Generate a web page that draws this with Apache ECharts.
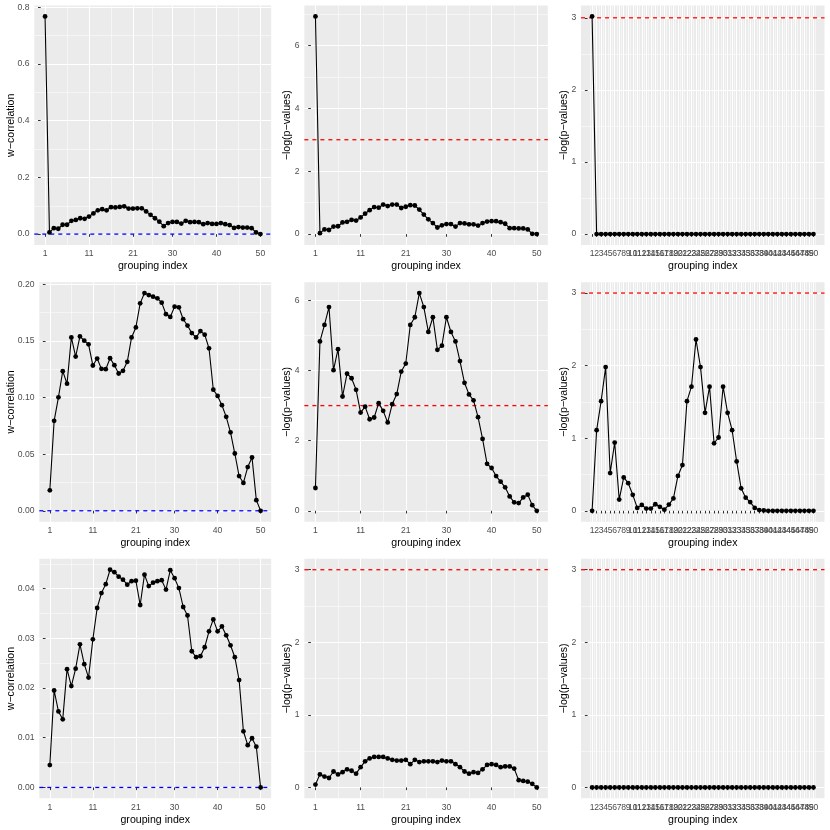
<!DOCTYPE html>
<html>
<head>
<meta charset="utf-8">
<script src="https://cdn.jsdelivr.net/npm/echarts@6/dist/echarts.min.js"></script>
<style>
  html, body { margin: 0; padding: 0; background: #fff; }
  #chart { width: 830px; height: 830px; }
</style>
</head>
<body>
<div id="chart"></div>
<script>
// grouping index 1..50 on every panel
const wcorTop = [0.768, 0.006, 0.021, 0.019, 0.033, 0.033, 0.047, 0.050, 0.056, 0.054,
  0.062, 0.073, 0.084, 0.088, 0.084, 0.095, 0.094, 0.096, 0.098, 0.090,
  0.090, 0.091, 0.091, 0.080, 0.068, 0.056, 0.044, 0.028, 0.039, 0.043,
  0.043, 0.037, 0.047, 0.042, 0.043, 0.042, 0.035, 0.039, 0.036, 0.036,
  0.039, 0.035, 0.032, 0.022, 0.025, 0.023, 0.023, 0.021, 0.006, 0.000]
const pvalTop = [6.92, 0.03, 0.15, 0.13, 0.24, 0.25, 0.37, 0.39, 0.45, 0.43,
  0.53, 0.65, 0.76, 0.86, 0.84, 0.94, 0.89, 0.94, 0.94, 0.83,
  0.87, 0.92, 0.91, 0.78, 0.62, 0.47, 0.35, 0.21, 0.28, 0.32,
  0.32, 0.24, 0.35, 0.34, 0.31, 0.31, 0.27, 0.35, 0.40, 0.41,
  0.41, 0.38, 0.33, 0.19, 0.19, 0.18, 0.18, 0.15, 0.01, 0.00]
const pvalTopR = [3.02, 0, 0, 0, 0, 0, 0, 0, 0, 0,
  0, 0, 0, 0, 0, 0, 0, 0, 0, 0,
  0, 0, 0, 0, 0, 0, 0, 0, 0, 0,
  0, 0, 0, 0, 0, 0, 0, 0, 0, 0,
  0, 0, 0, 0, 0, 0, 0, 0, 0, 0]

const wcorMid = [0.0181, 0.0795, 0.1003, 0.1234, 0.1123, 0.1532, 0.1363, 0.1541, 0.1503, 0.1471,
  0.1284, 0.1345, 0.1254, 0.1251, 0.1348, 0.1287, 0.1213, 0.1237, 0.1316, 0.1532,
  0.1620, 0.1833, 0.1924, 0.1906, 0.1892, 0.1877, 0.1839, 0.1737, 0.1713, 0.1804,
  0.1798, 0.1693, 0.1637, 0.1570, 0.1532, 0.1588, 0.1556, 0.1436, 0.1070, 0.1015,
  0.0933, 0.0830, 0.0693, 0.0506, 0.0307, 0.0246, 0.0386, 0.0471, 0.0094, 0.0000]
const pvalMid = [0.65, 4.83, 5.30, 5.81, 4.01, 4.61, 3.26, 3.91, 3.78, 3.45,
  2.80, 2.97, 2.61, 2.66, 3.07, 2.85, 2.52, 3.04, 3.33, 3.97,
  4.20, 5.30, 5.52, 6.21, 5.81, 5.10, 5.52, 4.59, 4.71, 5.52,
  5.10, 4.83, 4.27, 3.65, 3.32, 3.15, 2.67, 2.05, 1.34, 1.22,
  0.99, 0.83, 0.67, 0.41, 0.24, 0.22, 0.38, 0.46, 0.16, 0.00]
const pvalMidR = [0.00, 1.11, 1.51, 1.98, 0.52, 0.94, 0.155, 0.46, 0.38, 0.22,
  0.04, 0.08, 0.03, 0.03, 0.09, 0.055, 0.015, 0.085, 0.17, 0.48,
  0.63, 1.51, 1.71, 2.36, 1.98, 1.35, 1.71, 0.93, 1.01, 1.71,
  1.35, 1.11, 0.68, 0.31, 0.18, 0.12, 0.04, 0.01, 0.005, 0,
  0, 0, 0, 0, 0, 0, 0, 0, 0, 0]

const wcorBot = [0.0045, 0.0195, 0.0153, 0.0137, 0.0238, 0.0204, 0.0239, 0.0288, 0.0248, 0.0221,
  0.0298, 0.0361, 0.0391, 0.0409, 0.0438, 0.0433, 0.0424, 0.0418, 0.0408, 0.0415,
  0.0416, 0.0367, 0.0428, 0.0405, 0.0412, 0.0415, 0.0417, 0.0398, 0.0437, 0.0421,
  0.0401, 0.0363, 0.0346, 0.0274, 0.0262, 0.0264, 0.0282, 0.0314, 0.0338, 0.0314,
  0.0324, 0.0306, 0.0286, 0.0262, 0.0216, 0.0113, 0.0085, 0.0099, 0.0082, 0.0000]
const pvalBot = [0.04, 0.18, 0.15, 0.13, 0.22, 0.18, 0.21, 0.25, 0.23, 0.19,
  0.28, 0.36, 0.40, 0.42, 0.42, 0.42, 0.40, 0.38, 0.37, 0.37,
  0.38, 0.32, 0.38, 0.35, 0.36, 0.36, 0.36, 0.35, 0.37, 0.36,
  0.36, 0.32, 0.28, 0.22, 0.19, 0.21, 0.20, 0.25, 0.31, 0.32,
  0.31, 0.28, 0.29, 0.29, 0.26, 0.10, 0.09, 0.08, 0.05, 0.00]
const pvalBotR = [0, 0, 0, 0, 0, 0, 0, 0, 0, 0,
  0, 0, 0, 0, 0, 0, 0, 0, 0, 0,
  0, 0, 0, 0, 0, 0, 0, 0, 0, 0,
  0, 0, 0, 0, 0, 0, 0, 0, 0, 0,
  0, 0, 0, 0, 0, 0, 0, 0, 0, 0]

// tick labels
const xTicksSparse = [1, 11, 21, 30, 40, 50]
const xTicksAll = [1, 2, 3, 4, 5, 6, 7, 8, 9, 10, 11, 12, 13, 14, 15, 16, 17, 18, 19, 20,
  21, 22, 23, 24, 25, 26, 27, 28, 29, 30, 31, 32, 33, 34, 35, 36, 37, 38, 39, 40,
  41, 42, 43, 44, 45, 46, 47, 48, 49, 50]
const yTicksWTop = [0, 0.2, 0.4, 0.6, 0.8]
const yTicksWMid = [0, 0.05, 0.10, 0.15, 0.20]
const yTicksWBot = [0, 0.01, 0.02, 0.03, 0.04]
const yTicksP = [0, 2, 4, 6]
const yTicksP3 = [0, 1, 2, 3]

const WCOR = 'w\u2212correlation'
const PLOG = '\u2212log(p\u2212values)'

const panels = [
  { data: wcorTop, yName: WCOR, yTicks: yTicksWTop, dig: 1, hline: 0, hcol: '#0000FF', xTicks: xTicksSparse },
  { data: pvalTop, yName: PLOG, yTicks: yTicksP, dig: 0, hline: 3, hcol: '#FF0000', xTicks: xTicksSparse },
  { data: pvalTopR, yName: PLOG, yTicks: yTicksP3, dig: 0, hline: 3, hcol: '#FF0000', xTicks: xTicksAll },
  { data: wcorMid, yName: WCOR, yTicks: yTicksWMid, dig: 2, hline: 0, hcol: '#0000FF', xTicks: xTicksSparse },
  { data: pvalMid, yName: PLOG, yTicks: yTicksP, dig: 0, hline: 3, hcol: '#FF0000', xTicks: xTicksSparse },
  { data: pvalMidR, yName: PLOG, yTicks: yTicksP3, dig: 0, hline: 3, hcol: '#FF0000', xTicks: xTicksAll },
  { data: wcorBot, yName: WCOR, yTicks: yTicksWBot, dig: 2, hline: 0, hcol: '#0000FF', xTicks: xTicksSparse },
  { data: pvalBot, yName: PLOG, yTicks: yTicksP3, dig: 0, hline: 3, hcol: '#FF0000', xTicks: xTicksSparse },
  { data: pvalBotR, yName: PLOG, yTicks: yTicksP3, dig: 0, hline: 3, hcol: '#FF0000', xTicks: xTicksAll },
]

// layout of the 3x3 facets
const cellW = 830 / 3
const plotLeft = [[34.3, 27.7, 27.7], [39.3, 27.7, 27.7], [39.3, 27.7, 27.7]]

// ggplot-like minor breaks: midpoints between majors, plus one step outside if in range
function minorBreaks(major, lo, hi) {
  const out = []
  for (let i = 0; i < major.length - 1; i++) out.push((major[i] + major[i + 1]) / 2)
  const n = major.length
  if (n > 1) {
    const first = major[0] - (major[1] - major[0]) / 2
    const last = major[n - 1] + (major[n - 1] - major[n - 2]) / 2
    if (first > lo) out.unshift(first)
    if (last < hi) out.push(last)
  }
  return out
}

function expand(lo, hi) {
  const d = (hi - lo) * 0.05
  return [lo - d, hi + d]
}

const grids = [], xAxes = [], yAxes = [], series = []
const tickColor = '#333333'
const labelColor = '#4D4D4D'

panels.forEach((p, k) => {
  const r = Math.floor(k / 3), c = k % 3
  const pl = plotLeft[r][c]
  grids.push({
    left: c * cellW + pl,
    top: r * cellW + 5.5,
    width: cellW - 5.5 - pl,
    height: 239.5,
    show: true,
    backgroundColor: '#EBEBEB',
    borderWidth: 0
  })

  const [xMin, xMax] = expand(1, 50)
  const xMinor = minorBreaks(p.xTicks, xMin, xMax)
  // crowded label sets are split over several axes so ECharts keeps every label
  const dense = p.xTicks.length > 10
  const labelGroups = dense ? [0, 1, 2].map(g => p.xTicks.filter((v, i) => i % 3 === g)) : []

  const xMain = xAxes.length
  xAxes.push({
    gridIndex: k, type: 'value', position: 'bottom', min: xMin, max: xMax,
    axisLine: { show: false },
    axisTick: { show: true, length: 2.7, customValues: p.xTicks, lineStyle: { color: tickColor, width: 1 } },
    axisLabel: {
      show: !dense,
      customValues: p.xTicks, color: labelColor, fontSize: 8.6, margin: 4.5,
      formatter: v => String(v)
    },
    splitLine: { show: true, lineStyle: { color: '#FFFFFF', width: 1 } },
    name: 'grouping index', nameLocation: 'middle', nameGap: 16, nameMoveOverlap: false,
    nameTextStyle: { color: '#000', fontSize: 10.6 }
  })
  xAxes.push({
    gridIndex: k, type: 'value', position: 'top', min: xMin, max: xMax,
    axisLine: { show: false },
    axisTick: { show: false, customValues: xMinor },
    axisLabel: { show: false, customValues: xMinor },
    splitLine: { show: true, lineStyle: { color: '#FFFFFF', width: 0.5 } }
  })
  labelGroups.forEach(vals => {
    xAxes.push({
      gridIndex: k, type: 'value', position: 'bottom', min: xMin, max: xMax,
      axisLine: { show: false },
      axisTick: { show: false, customValues: vals },
      axisLabel: { customValues: vals, color: labelColor, fontSize: 8.6, margin: 4.5, formatter: v => String(v) },
      splitLine: { show: false }
    })
  })

  const lo = Math.min(0, p.hline, ...p.data)
  const hi = Math.max(p.hline, ...p.data)
  const [yMin, yMax] = expand(lo, hi)
  const yMinor = minorBreaks(p.yTicks, yMin, yMax)
  const yMain = yAxes.length
  yAxes.push({
    gridIndex: k, type: 'value', position: 'left', min: yMin, max: yMax,
    axisLine: { show: false },
    axisTick: { show: true, length: 2.7, customValues: p.yTicks, lineStyle: { color: tickColor, width: 1 } },
    axisLabel: {
      customValues: p.yTicks, color: labelColor, fontSize: 8.6, margin: 4.8,
      formatter: v => v.toFixed(p.dig)
    },
    splitLine: { show: true, lineStyle: { color: '#FFFFFF', width: 1 } },
    name: p.yName, nameLocation: 'middle', nameRotate: 90, nameGap: pl - 16.3, nameMoveOverlap: false,
    nameTextStyle: { color: '#000', fontSize: 10.6 }
  })
  yAxes.push({
    gridIndex: k, type: 'value', position: 'right', min: yMin, max: yMax,
    axisLine: { show: false },
    axisTick: { show: false, customValues: yMinor },
    axisLabel: { show: false, customValues: yMinor },
    splitLine: { show: true, lineStyle: { color: '#FFFFFF', width: 0.5 } }
  })

  // dashed reference line across the whole panel
  series.push({
    type: 'line',
    xAxisIndex: xMain,
    yAxisIndex: yMain,
    data: [[xMin, p.hline], [xMax, p.hline]],
    symbol: 'none',
    silent: true,
    z: 1,
    lineStyle: { color: p.hcol, type: [4, 4], width: 1.3 },
    itemStyle: { color: p.hcol }
  })
  series.push({
    type: 'line',
    xAxisIndex: xMain,
    yAxisIndex: yMain,
    data: p.data.map((v, i) => [i + 1, v]),
    symbol: 'circle',
    symbolSize: 4.8,
    showAllSymbol: true,
    z: 3,
    lineStyle: { color: '#000', width: 1.1 },
    itemStyle: { color: '#000' }
  })
})

const myChart = echarts.init(document.getElementById('chart'))
myChart.setOption({
  animation: false,
  backgroundColor: '#FFFFFF',
  textStyle: { fontFamily: 'Liberation Sans' },
  grid: grids,
  xAxis: xAxes,
  yAxis: yAxes,
  series: series
})
</script>
</body>
</html>
